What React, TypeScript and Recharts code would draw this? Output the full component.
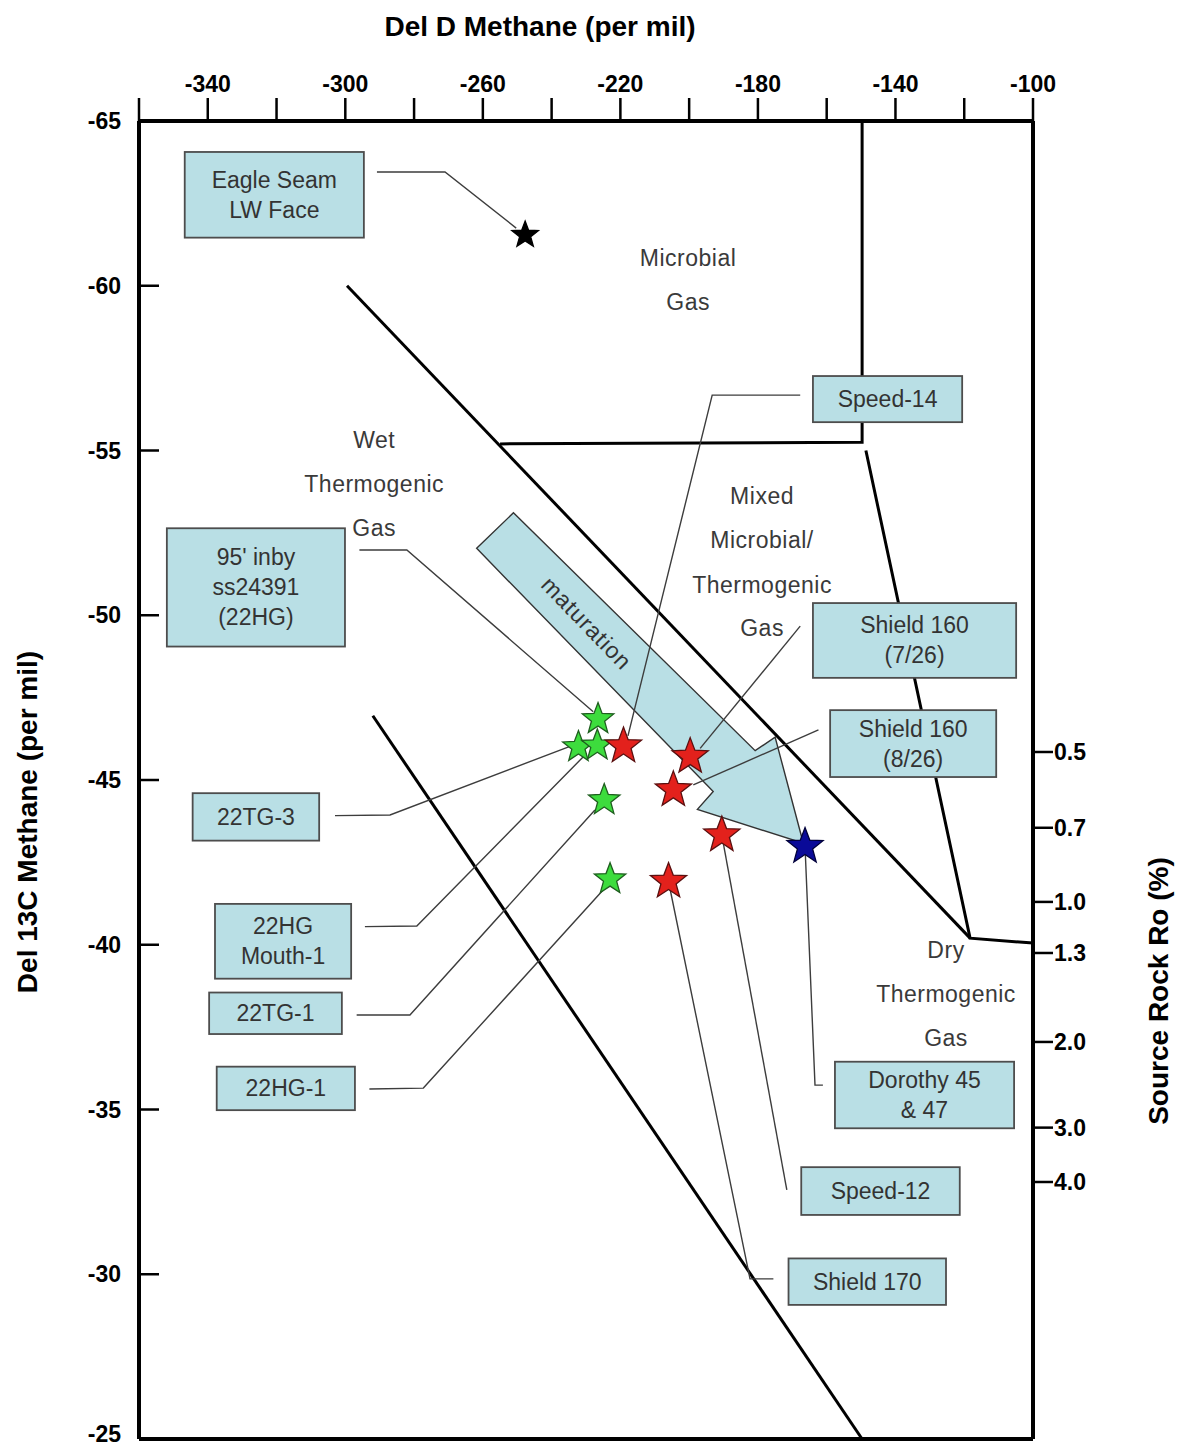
import React from 'react';
import { ComposedChart, XAxis, YAxis, Scatter, Label } from 'recharts';

const W = 1181;
const H = 1446;

// Axis ticks
const xTicks = [-360, -340, -320, -300, -280, -260, -240, -220, -200, -180, -160, -140, -120, -100];
const xLabeledTicks = [-340, -300, -260, -220, -180, -140, -100];
const yTicks = [-65, -60, -55, -50, -45, -40, -35, -30, -25];
const roTickPositions = [-45.85, -43.55, -41.3, -39.75, -37.05, -34.45, -32.8];
const roTickLabels = ['0.5', '0.7', '1.0', '1.3', '2.0', '3.0', '4.0'];
const roAnchors = roTickPositions.map((y) => ({ x: -100, y }));

// Samples (Del D, Del 13C)
const blackStars = [{ x: -247.7, y: -61.54 }];
const greenStars = [
  { x: -226.5, y: -46.85 },
  { x: -232.2, y: -46.0 },
  { x: -226.7, y: -46.05 },
  { x: -224.7, y: -44.39 },
  { x: -223.0, y: -41.99 },
];
const redStars = [
  { x: -219.1, y: -46.03 },
  { x: -199.7, y: -45.71 },
  { x: -204.6, y: -44.7 },
  { x: -190.5, y: -43.33 },
  { x: -206.0, y: -41.92 },
];
const blueStars = [{ x: -166.3, y: -42.98 }];

// Genetic field boundaries
const microbialVertical = [{ x: -255, y: -55.2 }, { x: -149.7, y: -55.25 }, { x: -149.7, y: -65 }];
const dryBoundary = [{ x: -148.6, y: -55.0 }, { x: -118.3, y: -40.2 }, { x: -100, y: -40.05 }];
const upperDiagonal = [{ x: -299.5, y: -60.0 }, { x: -118.3, y: -40.2 }];
const lowerDiagonal = [{ x: -292.0, y: -46.95 }, { x: -149.7, y: -25.0 }];
const bottomFrame = [{ x: -360, y: -25 }, { x: -100, y: -25 }];

// Maturation arrow outline
const maturationArrow = [
  { x: -261.8, y: -52.03 },
  { x: -251.1, y: -53.11 },
  { x: -180.8, y: -45.89 },
  { x: -175.0, y: -46.3 },
  { x: -166.8, y: -43.08 },
  { x: -197.6, y: -44.11 },
  { x: -193.0, y: -44.65 },
];
const maturationLabel = [{ x: -229.8, y: -49.76, text: 'maturation' }];

// Leader lines
const leaderLines = [
  [{ x: -290.8, y: -63.45 }, { x: -271.0, y: -63.45 }, { x: -250.3, y: -61.75 }],
  [{ x: -167.7, y: -56.68 }, { x: -193.3, y: -56.68 }, { x: -217.8, y: -46.34 }],
  [{ x: -295.9, y: -51.98 }, { x: -282.1, y: -51.98 }, { x: -227.9, y: -47.07 }],
  [{ x: -303.0, y: -43.92 }, { x: -287.0, y: -43.94 }, { x: -233.7, y: -46.06 }],
  [{ x: -294.3, y: -40.55 }, { x: -279.2, y: -40.57 }, { x: -229.8, y: -45.81 }],
  [{ x: -296.7, y: -37.87 }, { x: -281.2, y: -37.87 }, { x: -227.4, y: -44.09 }],
  [{ x: -293.0, y: -35.62 }, { x: -277.3, y: -35.65 }, { x: -224.5, y: -41.72 }],
  [{ x: -167.7, y: -49.67 }, { x: -196.8, y: -45.96 }],
  [{ x: -162.4, y: -46.52 }, { x: -198.8, y: -44.85 }],
  [{ x: -166.3, y: -42.98 }, { x: -163.4, y: -35.74 }, { x: -161.1, y: -35.74 }],
  [{ x: -190.5, y: -43.33 }, { x: -171.6, y: -32.56 }],
  [{ x: -206.0, y: -41.92 }, { x: -182.3, y: -29.86 }, { x: -175.5, y: -29.86 }],
];

// Sample label boxes
const sampleBoxes = [
  { lines: ['Eagle Seam', 'LW Face'], x1: -346.7, x2: -294.6, y1: -64.06, y2: -61.46 },
  { lines: ['Speed-14'], x1: -164.0, x2: -120.6, y1: -57.26, y2: -55.86 },
  { lines: ["95' inby", 'ss24391', '(22HG)'], x1: -351.9, x2: -300.1, y1: -52.64, y2: -49.05 },
  { lines: ['Shield 160', '(7/26)'], x1: -164.0, x2: -104.9, y1: -50.37, y2: -48.1 },
  { lines: ['Shield 160', '(8/26)'], x1: -159.0, x2: -110.7, y1: -47.12, y2: -45.09 },
  { lines: ['22TG-3'], x1: -344.4, x2: -307.6, y1: -44.6, y2: -43.16 },
  { lines: ['22HG', 'Mouth-1'], x1: -337.9, x2: -298.3, y1: -41.24, y2: -38.97 },
  { lines: ['22TG-1'], x1: -339.6, x2: -301.0, y1: -38.55, y2: -37.29 },
  { lines: ['22HG-1'], x1: -337.4, x2: -297.2, y1: -36.3, y2: -34.98 },
  { lines: ['Dorothy 45', '& 47'], x1: -157.6, x2: -105.5, y1: -36.45, y2: -34.43 },
  { lines: ['Speed-12'], x1: -167.4, x2: -121.3, y1: -33.25, y2: -31.8 },
  { lines: ['Shield 170'], x1: -171.1, x2: -125.3, y1: -30.48, y2: -29.07 },
];

// Field names
const fieldLabels = [
  { x: -200.3, y: -60.84, text: 'Microbial' },
  { x: -200.3, y: -59.5, text: 'Gas' },
  { x: -291.6, y: -55.32, text: 'Wet' },
  { x: -291.6, y: -53.98, text: 'Thermogenic' },
  { x: -291.6, y: -52.65, text: 'Gas' },
  { x: -178.8, y: -53.62, text: 'Mixed' },
  { x: -178.8, y: -52.28, text: 'Microbial/' },
  { x: -178.8, y: -50.92, text: 'Thermogenic' },
  { x: -178.8, y: -49.61, text: 'Gas' },
  { x: -125.3, y: -39.84, text: 'Dry' },
  { x: -125.3, y: -38.51, text: 'Thermogenic' },
  { x: -125.3, y: -37.17, text: 'Gas' },
];

const FONT = "'Liberation Sans', Arial, Helvetica, sans-serif";
const BOX_FILL = '#b9dfe5';
const tickStyle = { fill: '#000', fontSize: 23, fontWeight: 700, fontFamily: FONT };

const hidden = () => <g />;

function starPath(cx: number, cy: number, R: number) {
  const r = R * 0.42;
  const pts: string[] = [];
  for (let i = 0; i < 10; i++) {
    const a = ((-90 + i * 36) * Math.PI) / 180;
    const rad = i % 2 === 0 ? R : r;
    pts.push(`${(cx + rad * Math.cos(a)).toFixed(2)},${(cy + rad * Math.sin(a)).toFixed(2)}`);
  }
  return pts.join(' ');
}

const makeStar = (R: number, fill: string, stroke: string) => (p: any) =>
  <polygon points={starPath(p.cx, p.cy, R)} fill={fill} stroke={stroke} strokeWidth={1.3} strokeLinejoin="miter" />;

const makeBox = (lines: string[]) => (p: any) => {
  const pts = p.points || [];
  if (pts.length < 2) return <g />;
  const x = Math.min(pts[0].x, pts[1].x);
  const y = Math.min(pts[0].y, pts[1].y);
  const w = Math.abs(pts[1].x - pts[0].x);
  const h = Math.abs(pts[1].y - pts[0].y);
  const cx = x + w / 2;
  const cy = y + h / 2;
  const lh = 30;
  return (
    <g>
      <rect x={x} y={y} width={w} height={h} fill={BOX_FILL} stroke="#4d4d4d" strokeWidth={1.8} />
      {lines.map((t, i) => (
        <text key={i} x={cx} y={cy + (i - (lines.length - 1) / 2) * lh} textAnchor="middle" dominantBaseline="central"
          fontFamily={FONT} fontSize={23} fill="#333">{t}</text>
      ))}
    </g>
  );
};

const polygonLine = (p: any) => {
  const pts = p.points || [];
  return <polygon points={pts.map((q: any) => `${q.x},${q.y}`).join(' ')} fill={BOX_FILL} stroke="#333" strokeWidth={1.4} />;
};

const fieldText = (p: any) => (
  <text x={p.cx} y={p.cy} textAnchor="middle" dominantBaseline="central" fontFamily={FONT} fontSize={23}
    letterSpacing={0.5} fill="#3a3a3a">{p.payload.text}</text>
);

const maturationText = (p: any) => (
  <text x={p.cx} y={p.cy} textAnchor="middle" dominantBaseline="central" fontFamily={FONT} fontSize={23}
    letterSpacing={1} fill="#333" transform={`rotate(46 ${p.cx} ${p.cy})`}>{p.payload.text}</text>
);

const leftTick = (p: any) => (
  <text x={p.x} y={Math.min(p.y, H - 12)} textAnchor="end" dominantBaseline="central" {...tickStyle}>
    {p.payload ? p.payload.value : ''}
  </text>
);

const rightTick = (p: any) => (
  <text x={p.x} y={p.y} textAnchor="start" dominantBaseline="central" {...tickStyle}>
    {p.payload ? fmtRo(p.payload.value) : ''}
  </text>
);

const topTitle = (props: any) => {
  const vb = props.viewBox || { x: 0, y: 0, width: 0, height: 0 };
  return (
    <text x={vb.x + 401} y={vb.y + 26} textAnchor="middle" dominantBaseline="central" fontFamily={FONT}
      fontSize={28} fontWeight={700} fill="#000">Del D Methane (per mil)</text>
  );
};
const leftTitle = (props: any) => {
  const vb = props.viewBox || { x: 0, y: 0, width: 0, height: 0 };
  const x = vb.x + 27;
  const y = vb.y + 701;
  return (
    <text x={x} y={y} textAnchor="middle" dominantBaseline="central" fontFamily={FONT} fontSize={28}
      fontWeight={700} fill="#000" transform={`rotate(-90 ${x} ${y})`}>Del 13C Methane (per mil)</text>
  );
};
const rightTitle = (props: any) => {
  const vb = props.viewBox || { x: 0, y: 0, width: 0, height: 0 };
  const x = vb.x + 125;
  const y = vb.y + 870;
  return (
    <text x={x} y={y} textAnchor="middle" dominantBaseline="central" fontFamily={FONT} fontSize={28}
      fontWeight={700} fill="#000" transform={`rotate(-90 ${x} ${y})`}>Source Rock Ro (%)</text>
  );
};

const fmtX = (v: number) => (xLabeledTicks.includes(v) ? String(v) : '');
function fmtRo(v: number) {
  let best = 0;
  for (let i = 1; i < roTickPositions.length; i++) {
    if (Math.abs(roTickPositions[i] - v) < Math.abs(roTickPositions[best] - v)) best = i;
  }
  return roTickLabels[best];
}

const common = { xAxisId: 't', yAxisId: 'l', isAnimationActive: false, legendType: 'none' as const };

export default function App() {
  return (
    <div style={{ position: 'absolute', left: 0, top: 0, width: W, height: H, background: '#fff' }}>
      <ComposedChart width={W} height={H} margin={{ top: 0, right: 0, bottom: 7, left: 0 }}>
        <XAxis xAxisId="t" type="number" dataKey="x" orientation="top" domain={[-360, -100]} ticks={xTicks}
          interval={0} height={121} tickSize={23} tickMargin={6} tickFormatter={fmtX} tick={tickStyle}
          tickLine={{ stroke: '#000', strokeWidth: 2.5 }} axisLine={{ stroke: '#000', strokeWidth: 4 }}>
          <Label content={topTitle} />
        </XAxis>
        <YAxis yAxisId="l" type="number" dataKey="y" domain={[-65, -25]} reversed ticks={yTicks} interval={0}
          width={139} tickSize={-20} tickMargin={38} tick={leftTick}
          tickLine={{ stroke: '#000', strokeWidth: 2.5 }} axisLine={{ stroke: '#000', strokeWidth: 4 }}>
          <Label content={leftTitle} />
        </YAxis>
        <YAxis yAxisId="r" orientation="right" type="number" dataKey="y" domain={[-65, -25]} reversed
          ticks={roTickPositions} interval={0} width={148} tickSize={20} tickMargin={1}
          tick={rightTick} tickLine={{ stroke: '#000', strokeWidth: 2.5 }} axisLine={{ stroke: '#000', strokeWidth: 4 }}>
          <Label content={rightTitle} />
        </YAxis>

        <Scatter xAxisId="t" yAxisId="r" isAnimationActive={false} legendType="none" data={roAnchors} shape={hidden} />

        <Scatter {...common} data={maturationArrow} shape={hidden} line={polygonLine} />
        <Scatter {...common} data={maturationLabel} shape={maturationText} />

        <Scatter {...common} data={microbialVertical} shape={hidden} line={{ stroke: '#000', strokeWidth: 3 }} />
        <Scatter {...common} data={dryBoundary} shape={hidden} line={{ stroke: '#000', strokeWidth: 3 }} />
        <Scatter {...common} data={upperDiagonal} shape={hidden} line={{ stroke: '#000', strokeWidth: 3 }} />
        <Scatter {...common} data={lowerDiagonal} shape={hidden} line={{ stroke: '#000', strokeWidth: 3 }} />
        <Scatter {...common} data={bottomFrame} shape={hidden} line={{ stroke: '#000', strokeWidth: 4 }} />

        {leaderLines.map((d, i) => (
          <Scatter key={`ld${i}`} {...common} data={d} shape={hidden} line={{ stroke: '#3d3d3d', strokeWidth: 1.4 }} />
        ))}

        <Scatter {...common} data={fieldLabels} shape={fieldText} />

        <Scatter {...common} data={blackStars} shape={makeStar(14, '#000', '#000')} />
        <Scatter {...common} data={greenStars} shape={makeStar(16.5, '#3ddc3d', '#1f5e1f')} />
        <Scatter {...common} data={redStars} shape={makeStar(19, '#e3211c', '#5a1010')} />
        <Scatter {...common} data={blueStars} shape={makeStar(19, '#0a0a98', '#00003a')} />

        {sampleBoxes.map((b, i) => (
          <Scatter key={`bx${i}`} {...common} data={[{ x: b.x1, y: b.y1 }, { x: b.x2, y: b.y2 }]} shape={hidden}
            line={makeBox(b.lines)} />
        ))}
      </ComposedChart>
    </div>
  );
}
